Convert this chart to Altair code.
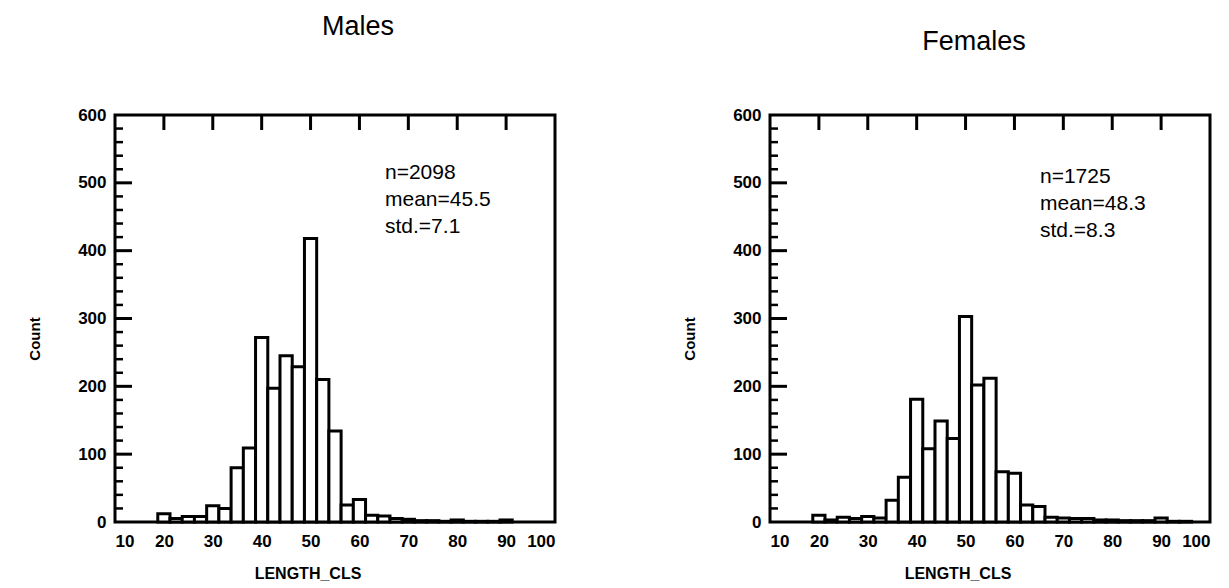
import altair as alt
import pandas as pd

# ---- data ----
length_classes = [20, 22.5, 25, 27.5, 30, 32.5, 35, 37.5, 40, 42.5, 45, 47.5, 50,
                  52.5, 55, 57.5, 60, 62.5, 65, 67.5, 70, 72.5, 75, 77.5, 80,
                  82.5, 85, 87.5, 90, 92.5, 95]
male_counts = [12, 5, 8, 8, 24, 20, 80, 109, 272, 197, 245, 229, 418,
               210, 134, 25, 33, 10, 9, 5, 4, 2, 2, 1, 3,
               1, 1, 1, 3, 0, 0]
female_counts = [10, 3, 7, 5, 8, 6, 32, 66, 181, 108, 149, 123, 303,
                 202, 212, 74, 72, 25, 23, 7, 6, 5, 5, 3, 3,
                 2, 2, 2, 6, 1, 1]
bin_width = 2.5

x_tick_values = [10, 20, 30, 40, 50, 60, 70, 80, 90, 100]
top_tick_values = [20, 30, 40, 50, 60, 70, 80, 90]
y_tick_values = [0, 100, 200, 300, 400, 500, 600]
y_major_inner = [100, 200, 300, 400, 500]
y_minor_inner = [v for v in range(20, 600, 20) if v % 100 != 0]

male_stats = "n=2098\nmean=45.5\nstd.=7.1"
female_stats = "n=1725\nmean=48.3\nstd.=8.3"

W, H = 440, 407
FONT = "Liberation Sans"


def panel(counts, title, title_x, title_y, stats, stats_y, xlab_x, anchor=False):
    df = pd.DataFrame({"cls": length_classes, "count": counts})
    df = df[df["count"] > 0].copy()
    df["lo"] = df["cls"] - bin_width / 2
    df["hi"] = df["cls"] + bin_width / 2

    xs = alt.Scale(domain=[10, 100], nice=False, zero=False)
    ys = alt.Scale(domain=[0, 600], nice=False)

    bars = alt.Chart(df).mark_rect(fill="white", stroke="black", strokeWidth=3).encode(
        x=alt.X("lo:Q", scale=xs,
                axis=alt.Axis(values=x_tick_values, format="d", title=None,
                              labelPadding=11, labelFontSize=17)),
        x2="hi:Q",
        y=alt.Y("count:Q", scale=ys,
                axis=alt.Axis(values=y_tick_values, format="d", title=None,
                              labelPadding=9, labelFontSize=17)),
        y2=alt.datum(0),
    )

    top_ticks = alt.Chart(pd.DataFrame({"v": top_tick_values})).mark_rule(
        color="black", strokeWidth=3).encode(
        x=alt.X("v:Q", scale=xs), y=alt.value(0), y2=alt.value(15))

    major = alt.Chart(pd.DataFrame({"v": y_major_inner})).mark_rule(
        color="black", strokeWidth=3).encode(
        y=alt.Y("v:Q", scale=ys), x=alt.value(0), x2=alt.value(17))

    minor = alt.Chart(pd.DataFrame({"v": y_minor_inner})).mark_rule(
        color="black", strokeWidth=2.5).encode(
        y=alt.Y("v:Q", scale=ys), x=alt.value(0), x2=alt.value(8))

    one = pd.DataFrame({"a": [0]})
    ttl = alt.Chart(one).mark_text(font=FONT, fontSize=27, align="center",
                                   baseline="alphabetic", color="black").encode(
        x=alt.value(title_x), y=alt.value(title_y), text=alt.value(title))

    st = alt.Chart(one).mark_text(font=FONT, fontSize=21, align="left",
                                  baseline="alphabetic", lineBreak="\n",
                                  lineHeight=27, color="black").encode(
        x=alt.value(270), y=alt.value(stats_y), text=alt.value(stats))

    ylab = alt.Chart(one).mark_text(font=FONT, fontSize=15, angle=270, align="center",
                                    baseline="middle", color="black",
                                    fontWeight="bold").encode(
        x=alt.value(-80), y=alt.value(224), text=alt.value("Count"))

    xlab = alt.Chart(one).mark_text(font=FONT, fontSize=16, align="center",
                                    baseline="middle", color="black",
                                    fontWeight="bold").encode(
        x=alt.value(xlab_x), y=alt.value(H + 52), text=alt.value("LENGTH_CLS"))

    layers = [bars, top_ticks, major, minor, ttl, st, ylab, xlab]
    if anchor:
        anc = alt.Chart(one).mark_rule(strokeOpacity=0, color="white").encode(
            x=alt.value(-113), x2=alt.value(-112), y=alt.value(-113))
        layers.append(anc)
    return alt.layer(*layers).properties(width=W, height=H)


males = panel(male_counts, "Males", 243, -80, male_stats, 64, 193, anchor=True)
females = panel(female_counts, "Females", 204, -65, female_stats, 68, 188)

chart = alt.hconcat(males, females, spacing=215, bounds="flush").properties(
    padding=0, background="white"
).configure_view(
    stroke="black", strokeWidth=3
).configure_axis(
    grid=False, domain=False, ticks=False, tickSize=0,
    labelFont=FONT, labelColor="black", labelFontWeight="bold"
)

chart.save("out.html", embed_options={"renderer": "svg", "actions": False})
